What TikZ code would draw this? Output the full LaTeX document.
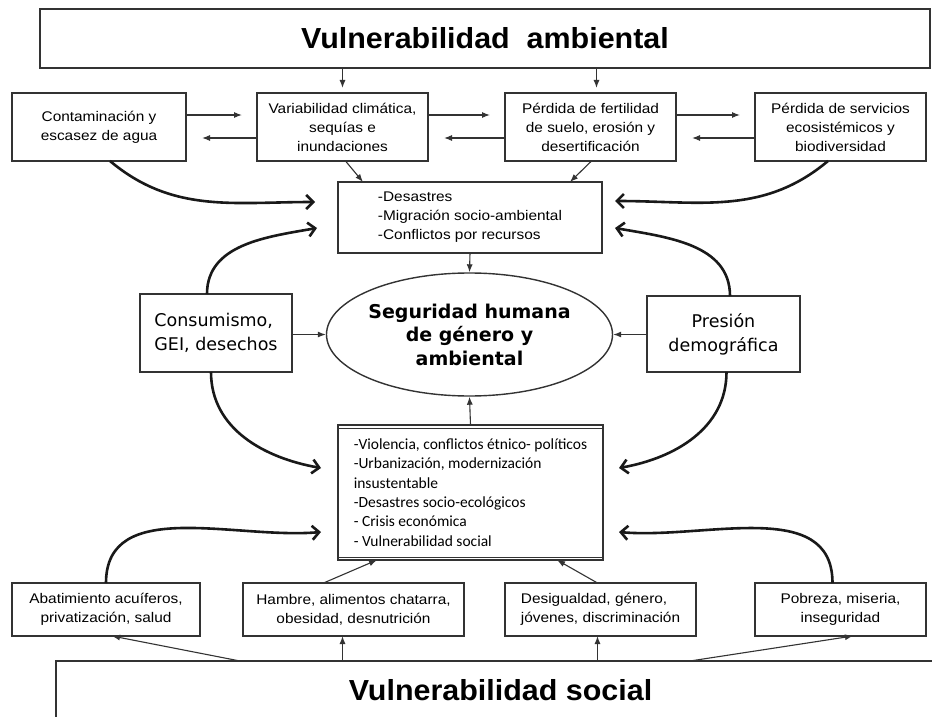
\documentclass[tikz,border=0pt]{standalone}
\usepackage{fontspec}
\setmainfont{Liberation Sans}
\newfontfamily\boxfont[FakeStretch=1.1]{Liberation Sans}
\newfontfamily\titlefont[FakeStretch=1.05]{Liberation Sans}
\newfontfamily\dejafont{DejaVu Sans}
\newfontfamily\calfont{Carlito}
\usetikzlibrary{arrows.meta,shapes.geometric}

\begin{document}
\begin{tikzpicture}[x=1pt,y=-1pt,
  box/.style={draw=black!80, line width=1.4pt, rectangle, inner sep=0pt, outer sep=0pt,
    align=center, font=\boxfont\fontsize{14}{19}\selectfont},
  titlebox/.style={box, font=\titlefont\bfseries\fontsize{29}{34}\selectfont},
  arr/.style={draw=black!80, line width=1.1pt, -{Latex[length=8pt,width=6pt]}},
  bigarr/.style={draw=black!90, line width=2.6pt, -{Straight Barb[length=7pt,width=14pt]}},
]
\useasboundingbox[fill=white] (0,0) rectangle (932,717);

% environmental vulnerability and its four factors
\node[titlebox, minimum width=890pt, minimum height=59pt] (top) at (485,38.5) {Vulnerabilidad\ \ ambiental};
\node[box, minimum width=174pt, minimum height=68pt] (c1) at (99,127) {Contaminación y\\escasez de agua};
\node[box, minimum width=171pt, minimum height=68pt] (c2) at (342.5,127) {Variabilidad climática,\\sequías e\\inundaciones};
\node[box, minimum width=171pt, minimum height=68pt] (c3) at (590.5,127) {Pérdida de fertilidad\\de suelo, erosión y\\desertificación};
\node[box, minimum width=171pt, minimum height=68pt] (c4) at (840.5,127) {Pérdida de servicios\\ecosistémicos y\\biodiversidad};

% central column
\node[box, minimum width=264pt, minimum height=71pt, align=left] (des) at (470,217.5)
  {-Desastres\\-Migración socio-ambiental\\-Conflictos por recursos};
\node[ellipse, draw=black!80, line width=1.4pt, minimum width=245pt, minimum height=123pt,
  inner sep=0pt, align=center, font=\dejafont\bfseries\fontsize{19}{23.5}\selectfont] (seg) at (469.5,334.5)
  {Seguridad humana\\de género y\\ambiental};
\node[box, minimum width=152pt, minimum height=78pt, align=left,
  font=\dejafont\fontsize{17.5}{24}\selectfont] (cons) at (216,333) {Consumismo,\\GEI, desechos};
\node[box, minimum width=153pt, minimum height=76pt,
  font=\dejafont\fontsize{17.5}{24}\selectfont] (pres) at (723.5,334) {Presión\\demográfica};
\node[box, minimum width=265pt, minimum height=135pt, align=left,
  font=\calfont\fontsize{15.5}{19.4}\selectfont] (low) at (470.5,492.5)
  {-Violencia, conflictos étnico- políticos\\-Urbanización, modernización\\insustentable\\-Desastres socio-ecológicos\\- Crisis económica\\- Vulnerabilidad social};
\draw[draw=black!80, line width=1pt] ([yshift=-3pt]low.north west) -- ([yshift=-3pt]low.north east);
\draw[draw=black!80, line width=1pt] ([yshift=3pt]low.south west) -- ([yshift=3pt]low.south east);

% social vulnerability and its four factors
\node[box, minimum width=188pt, minimum height=53pt] (b1) at (106,609.5) {Abatimiento acuíferos,\\privatización, salud};
\node[box, minimum width=221pt, minimum height=53pt] (b2) at (353.5,609.5) {Hambre, alimentos chatarra,\\obesidad, desnutrición};
\node[box, minimum width=191pt, minimum height=53pt, align=left] (b3) at (600.5,609.5) {Desigualdad, género,\\jóvenes, discriminación};
\node[box, minimum width=171pt, minimum height=53pt] (b4) at (840.5,609.5) {Pobreza, miseria,\\inseguridad};
\node[titlebox, minimum width=889pt, minimum height=58pt] (bot) at (500.5,690) {Vulnerabilidad social};

% thin connectors, top part
\path ([xshift=6pt]c3.north) coordinate (c3in);
\draw[arr, shorten >=5pt] (top.south -| c2.north) -- (c2.north);
\draw[arr, shorten >=5pt] (top.south -| c3in) -- (c3in);
\draw[arr, shorten >=15pt] ([yshift=12pt]c1.east) -- ([yshift=12pt]c2.west);
\draw[arr, shorten >=16pt] ([yshift=-11pt]c2.west) -- ([yshift=-11pt]c1.east);
\draw[arr, shorten >=15pt] ([yshift=12pt]c2.east) -- ([yshift=12pt]c3.west);
\draw[arr, shorten >=16pt] ([yshift=-11pt]c3.west) -- ([yshift=-11pt]c2.east);
\draw[arr, shorten >=15pt] ([yshift=12pt]c3.east) -- ([yshift=12pt]c4.west);
\draw[arr, shorten >=16pt] ([yshift=-11pt]c4.west) -- ([yshift=-11pt]c3.east);
\draw[arr] ([xshift=3pt]c2.south) -- ([xshift=25pt]des.north west);
\draw[arr] ([xshift=1pt]c3.south) -- ([xshift=-32pt]des.north east);

% thin connectors, centre
\draw[arr] (des.south) -- (seg.north);
\draw[arr] (cons.east |- seg.west) -- (seg.west);
\draw[arr] (pres.west |- seg.east) -- (seg.east);
\draw[arr] (low.north) -- (seg.south);

% thin connectors, bottom part
\draw[arr] ([xshift=-30pt]b2.north) -- ([xshift=39pt]low.south west);
\draw[arr] ([xshift=-3pt]b3.north) -- ([xshift=-46pt]low.south east);
\path ([xshift=-11pt]b2.south) coordinate (b2in) ([xshift=-3pt]b3.south) coordinate (b3in);
\draw[arr] ([xshift=184pt]bot.north west) -- ([xshift=6pt]b1.south);
\draw[arr] (bot.north -| b2in) -- (b2in);
\draw[arr] (bot.north -| b3in) -- (b3in);
\draw[arr] ([xshift=634pt]bot.north west) -- ([xshift=12.5pt]b4.south);

% thick curved influences
\coordinate (t1) at (315,202);
\coordinate (t2) at (615,201);
\coordinate (t3) at (317,228);
\coordinate (t4) at (615,228);
\coordinate (t5) at (321,468);
\coordinate (t6) at (619,468);
\coordinate (t7) at (321,532);
\coordinate (t8) at (619,532);
\draw[bigarr] ([xshift=11pt]c1.south) to[out=-40,in=180] (t1);
\draw[bigarr] ([xshift=-12.5pt]c4.south) to[out=-140,in=0] (t2);
\draw[bigarr] ([xshift=-9pt]cons.north) to[out=90,in=190] (t3);
\draw[bigarr] ([xshift=6.5pt]pres.north) to[out=90,in=-10] (t4);
\draw[bigarr] ([xshift=-5pt]cons.south) to[out=-90,in=170] (t5);
\draw[bigarr] ([xshift=3pt]pres.south) to[out=-90,in=10] (t6);
\draw[bigarr] (b1.north) to[out=90,in=185] (t7);
\draw[bigarr] ([xshift=-8pt]b4.north) to[out=90,in=-5] (t8);
\end{tikzpicture}
\end{document}
